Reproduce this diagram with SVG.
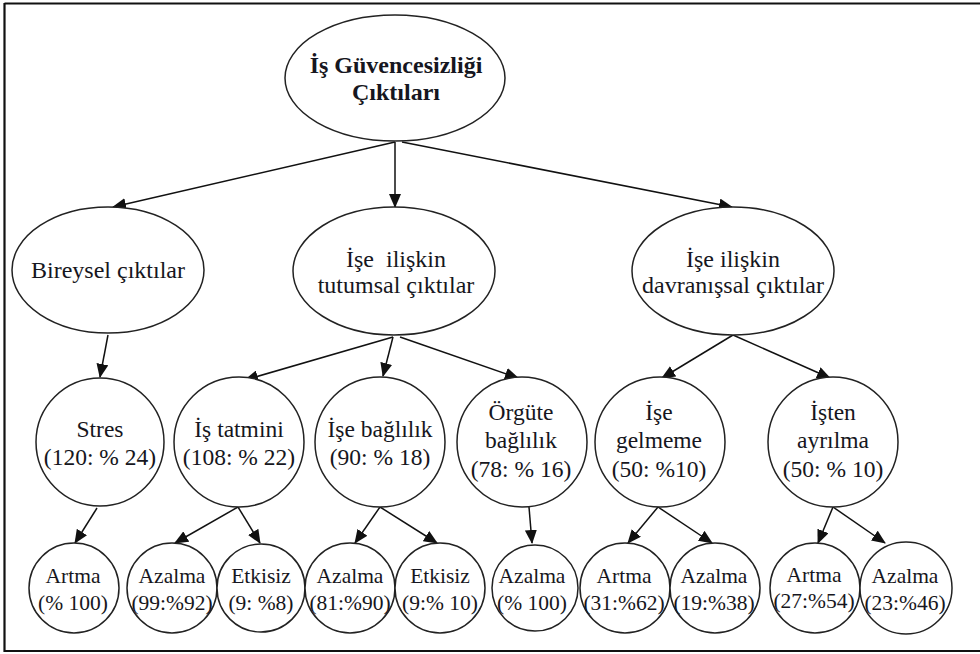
<svg xmlns="http://www.w3.org/2000/svg" width="980" height="654" viewBox="0 0 980 654">
<defs>
<marker id="ah" markerUnits="userSpaceOnUse" markerWidth="14" markerHeight="12" viewBox="0 0 14 12" refX="13" refY="6" orient="auto">
<path d="M0,0 L14,6 L0,12 Z" fill="#111"/>
</marker>
</defs>
<style>
.n{fill:#fff;stroke:#222;stroke-width:1.5}
.e{stroke:#111;stroke-width:1.5;fill:none;marker-end:url(#ah)}
.t{font-family:"Times New Roman","Liberation Serif","DejaVu Serif",serif;fill:#161620;text-anchor:middle}
.a{font-size:24px}
.b{font-size:23.5px}
.c{font-size:21.5px}
</style>
<rect width="980" height="654" fill="#fff"/>
<path d="M4.5,3.5 H980 M4.5,651 H980 M4.5,3 V652" stroke="#111" stroke-width="2.2" fill="none"/>

<g id="connectors">
<line class="e" x1="395" y1="142" x2="113" y2="207"/>
<line class="e" x1="395" y1="142" x2="395" y2="207"/>
<line class="e" x1="402" y1="142" x2="732" y2="207"/>
<line class="e" x1="108" y1="335" x2="100" y2="377"/>
<line class="e" x1="393" y1="337" x2="245" y2="380"/>
<line class="e" x1="393" y1="337" x2="383" y2="376"/>
<line class="e" x1="400" y1="337" x2="518" y2="378"/>
<line class="e" x1="733" y1="335" x2="662" y2="378"/>
<line class="e" x1="733" y1="335" x2="830" y2="378"/>
<line class="e" x1="97" y1="508" x2="75" y2="543"/>
<line class="e" x1="238" y1="507" x2="175" y2="543"/>
<line class="e" x1="238" y1="507" x2="260" y2="543"/>
<line class="e" x1="380" y1="507" x2="355" y2="543"/>
<line class="e" x1="380" y1="507" x2="437" y2="543"/>
<line class="e" x1="529" y1="507" x2="532" y2="543"/>
<line class="e" x1="658" y1="507" x2="628" y2="543"/>
<line class="e" x1="658" y1="507" x2="712" y2="543"/>
<line class="e" x1="833" y1="507" x2="818" y2="543"/>
<line class="e" x1="833" y1="507" x2="885" y2="543"/>
</g>

<g id="root">
<ellipse class="n" cx="395" cy="78" rx="110" ry="63"/>
<text class="t a" font-weight="bold" x="396" y="73">İş Güvencesizliği</text>
<text class="t a" font-weight="bold" x="396" y="100">Çıktıları</text>
</g>
<g id="bireysel">
<ellipse class="n" cx="108" cy="270" rx="96" ry="63"/>
<text class="t a" x="108" y="278">Bireysel çıktılar</text>
</g>
<g id="tutumsal">
<ellipse class="n" cx="394" cy="271" rx="101" ry="64"/>
<text class="t a" x="396" y="267" xml:space="preserve">İşe  ilişkin</text>
<text class="t a" x="396" y="293">tutumsal çıktılar</text>
</g>
<g id="davranissal">
<ellipse class="n" cx="733" cy="271" rx="101" ry="64"/>
<text class="t a" x="733" y="267">İşe ilişkin</text>
<text class="t a" x="733" y="293">davranışsal çıktılar</text>
</g>
<g id="stres">
<circle class="n" cx="100" cy="442" r="64"/>
<text class="t b" x="100" y="437">Stres</text>
<text class="t b" x="100" y="465">(120: % 24)</text>
</g>
<g id="is-tatmini">
<circle class="n" cx="239" cy="442" r="65"/>
<text class="t b" x="239" y="437">İş tatmini</text>
<text class="t b" x="239" y="465">(108: % 22)</text>
</g>
<g id="ise-baglilik">
<circle class="n" cx="380" cy="442" r="65"/>
<text class="t b" x="380" y="437">İşe bağlılık</text>
<text class="t b" x="380" y="465">(90: % 18)</text>
</g>
<g id="orgute-baglilik">
<circle class="n" cx="522" cy="442" r="65"/>
<text class="t b" x="521" y="420">Örgüte</text>
<text class="t b" x="521" y="448">bağlılık</text>
<text class="t b" x="521" y="477">(78: % 16)</text>
</g>
<g id="ise-gelmeme">
<circle class="n" cx="660" cy="442" r="65"/>
<text class="t b" x="659" y="420">İşe</text>
<text class="t b" x="659" y="448">gelmeme</text>
<text class="t b" x="659" y="477">(50: %10)</text>
</g>
<g id="isten-ayrilma">
<circle class="n" cx="833" cy="442" r="65"/>
<text class="t b" x="833" y="420">İşten</text>
<text class="t b" x="833" y="448">ayrılma</text>
<text class="t b" x="833" y="477">(50: % 10)</text>
</g>
<g id="stres-artma">
<circle class="n" cx="74" cy="588" r="45"/>
<text class="t c" x="73" y="583">Artma</text>
<text class="t c" x="73" y="610">(% 100)</text>
</g>
<g id="tatmin-azalma">
<circle class="n" cx="172" cy="588" r="45"/>
<text class="t c" x="172" y="583">Azalma</text>
<text class="t c" x="172" y="610">(99:%92)</text>
</g>
<g id="tatmin-etkisiz">
<circle class="n" cx="261" cy="588" r="44"/>
<text class="t c" x="261" y="583">Etkisiz</text>
<text class="t c" x="261" y="610">(9: %8)</text>
</g>
<g id="baglilik-azalma">
<circle class="n" cx="350" cy="588" r="45"/>
<text class="t c" x="350" y="583">Azalma</text>
<text class="t c" x="350" y="610">(81:%90)</text>
</g>
<g id="baglilik-etkisiz">
<circle class="n" cx="440" cy="588" r="45"/>
<text class="t c" x="440" y="583">Etkisiz</text>
<text class="t c" x="440" y="610">(9:% 10)</text>
</g>
<g id="orgut-azalma">
<circle class="n" cx="535" cy="588" r="43"/>
<text class="t c" x="532" y="583">Azalma</text>
<text class="t c" x="532" y="610">(% 100)</text>
</g>
<g id="gelmeme-artma">
<circle class="n" cx="625" cy="588" r="45"/>
<text class="t c" x="624" y="583">Artma</text>
<text class="t c" x="624" y="610">(31:%62)</text>
</g>
<g id="gelmeme-azalma">
<circle class="n" cx="715" cy="588" r="45"/>
<text class="t c" x="714" y="583">Azalma</text>
<text class="t c" x="714" y="610">(19:%38)</text>
</g>
<g id="ayrilma-artma">
<circle class="n" cx="815" cy="588" r="45"/>
<text class="t c" x="814" y="582">Artma</text>
<text class="t c" x="814" y="608">(27:%54)</text>
</g>
<g id="ayrilma-azalma">
<circle class="n" cx="906" cy="588" r="46"/>
<text class="t c" x="905" y="583">Azalma</text>
<text class="t c" x="905" y="610">(23:%46)</text>
</g>
</svg>
